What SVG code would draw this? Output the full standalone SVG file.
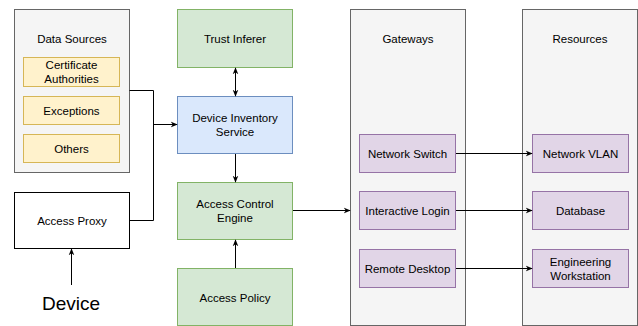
<svg xmlns="http://www.w3.org/2000/svg" width="638" height="326" viewBox="0 0 638 326">
<style>
text{font-family:"Liberation Sans",Arial,sans-serif;font-size:11.5px;fill:#000;text-anchor:middle;dominant-baseline:central}
.cont{fill:#f5f5f5;stroke:#666666}
.yel{fill:#fff2cc;stroke:#d6b656}
.grn{fill:#d5e8d4;stroke:#82b366}
.blu{fill:#dae8fc;stroke:#6c8ebf}
.pur{fill:#e1d5e7;stroke:#9673a6}
.wht{fill:#ffffff;stroke:#000000}
.edge{fill:none;stroke:#000;stroke-width:1}
</style>
<defs>
<marker id="ah" viewBox="0 0 10 10" refX="9" refY="5" markerWidth="7" markerHeight="7" orient="auto-start-reverse" markerUnits="userSpaceOnUse">
<path d="M0,1 L10,5 L0,9 L3,5 Z" fill="#000"/>
</marker>
</defs>
<g id="data-sources">
<rect class="cont" x="14.5" y="9.5" width="115" height="163"/>
<text x="72" y="39">Data Sources</text>
</g>
<g id="certificate-authorities">
<rect class="yel" x="23.5" y="57.5" width="96" height="29"/>
<text x="71.5" y="65">Certificate</text>
<text x="71.5" y="79">Authorities</text>
</g>
<g id="exceptions">
<rect class="yel" x="23.5" y="96.5" width="96" height="28"/>
<text x="71.5" y="110.5">Exceptions</text>
</g>
<g id="others">
<rect class="yel" x="23.5" y="134.5" width="96" height="28"/>
<text x="71.5" y="148.5">Others</text>
</g>
<g id="access-proxy">
<rect class="wht" x="14.5" y="192.5" width="115" height="56"/>
<text x="72" y="221">Access Proxy</text>
</g>
<g id="device">
<text x="71" y="303" style="font-size:19px">Device</text>
</g>
<g id="trust-inferer">
<rect class="grn" x="177.5" y="9.5" width="115" height="58"/>
<text x="235" y="38.5">Trust Inferer</text>
</g>
<g id="device-inventory-service">
<rect class="blu" x="177.5" y="96.5" width="115" height="57"/>
<text x="235" y="118">Device Inventory</text>
<text x="235" y="132">Service</text>
</g>
<g id="access-control-engine">
<rect class="grn" x="177.5" y="182.5" width="115" height="57"/>
<text x="235" y="204">Access Control</text>
<text x="235" y="218">Engine</text>
</g>
<g id="access-policy">
<rect class="grn" x="177.5" y="268.5" width="115" height="57"/>
<text x="235" y="297.5">Access Policy</text>
</g>
<g id="gateways">
<rect class="cont" x="350.5" y="9.5" width="115" height="316"/>
<text x="408" y="39">Gateways</text>
</g>
<g id="network-switch">
<rect class="pur" x="359.5" y="134.5" width="96" height="38"/>
<text x="407.5" y="153.5">Network Switch</text>
</g>
<g id="interactive-login">
<rect class="pur" x="359.5" y="191.5" width="96" height="38"/>
<text x="407.5" y="210.5">Interactive Login</text>
</g>
<g id="remote-desktop">
<rect class="pur" x="359.5" y="249.5" width="96" height="38"/>
<text x="407.5" y="268.5">Remote Desktop</text>
</g>
<g id="resources">
<rect class="cont" x="522.5" y="9.5" width="115" height="316"/>
<text x="580" y="39">Resources</text>
</g>
<g id="network-vlan">
<rect class="pur" x="532.5" y="134.5" width="96" height="38"/>
<text x="580.5" y="153.5">Network VLAN</text>
</g>
<g id="database">
<rect class="pur" x="532.5" y="191.5" width="96" height="38"/>
<text x="580.5" y="210.5">Database</text>
</g>
<g id="engineering-workstation">
<rect class="pur" x="532.5" y="249.5" width="96" height="38"/>
<text x="580.5" y="261.5">Engineering</text>
<text x="580.5" y="275.5">Workstation</text>
</g>
<g id="connectors">
<path class="edge" d="M129.5,90.5 H153.5 V220.5 H129.5"/>
<path class="edge" d="M153.5,124.5 H177" marker-end="url(#ah)"/>
<path class="edge" d="M71.5,285 V249" marker-end="url(#ah)"/>
<path class="edge" d="M235.5,68 V96" marker-start="url(#ah)" marker-end="url(#ah)"/>
<path class="edge" d="M235.5,154 V182" marker-end="url(#ah)"/>
<path class="edge" d="M235.5,268 V240" marker-end="url(#ah)"/>
<path class="edge" d="M293,210.5 H350" marker-end="url(#ah)"/>
<path class="edge" d="M456,153.5 H532" marker-end="url(#ah)"/>
<path class="edge" d="M456,210.5 H532" marker-end="url(#ah)"/>
<path class="edge" d="M456,268.5 H532" marker-end="url(#ah)"/>
</g>
</svg>
